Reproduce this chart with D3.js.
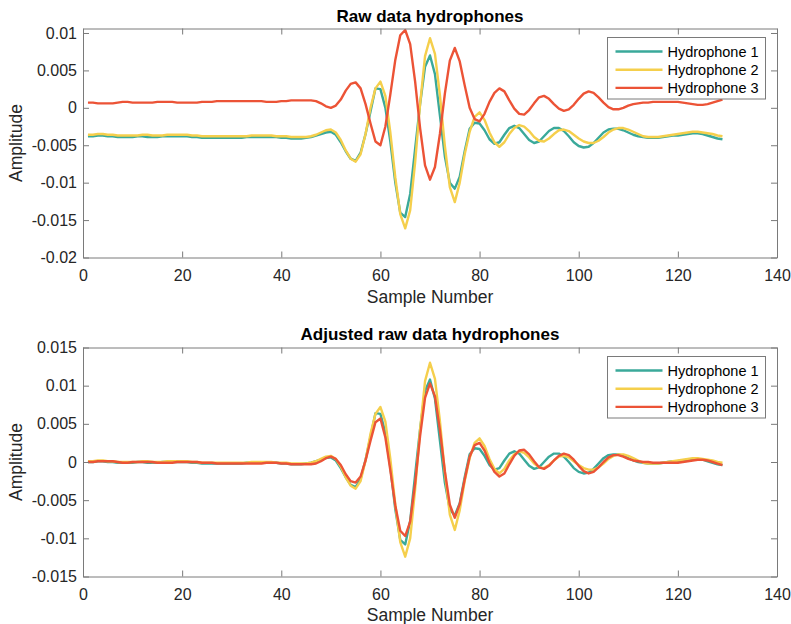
<!DOCTYPE html>
<html>
<head>
<meta charset="utf-8">
<script src="https://cdn.jsdelivr.net/npm/d3@7"></script>
<style>
  html, body { margin: 0; padding: 0; background: #fff; }
  svg { display: block; font-family: "Liberation Sans", Arial, Helvetica, sans-serif; }
</style>
</head>
<body>
<svg id="fig" width="791" height="624"></svg>
<script>
// Hydrophone amplitudes, stored in units of 1e-4
const AMP_UNIT = 1e-4;
const samples = d3.range(1, 130);   // sample numbers 1..129

const rawH1 = [
  -38,-38,-37,-37,-38,-38,-39,-39,-39,-39,
  -38,-38,-39,-39,-39,-38,-38,-38,-38,-38,
  -38,-39,-39,-40,-40,-40,-40,-40,-40,-40,
  -40,-40,-39,-39,-39,-39,-39,-39,-39,-40,
  -40,-41,-41,-41,-40,-39,-37,-35,-33,-32,
  -36,-46,-58,-68,-71,-60,-35,-5,26,25,
  0,-45,-100,-140,-146,-115,-55,5,55,70,
  45,-10,-65,-100,-108,-92,-58,-28,-20,-21,
  -30,-42,-48,-46,-36,-27,-24,-27,-35,-43,
  -47,-45,-38,-31,-27,-27,-31,-38,-46,-51,
  -53,-52,-47,-40,-33,-29,-28,-28,-30,-33,
  -36,-38,-39,-40,-40,-40,-39,-38,-37,-37,
  -36,-35,-34,-34,-35,-37,-39,-41,-42
];
const rawH2 = [
  -36,-36,-35,-35,-36,-36,-37,-37,-37,-37,
  -37,-36,-36,-37,-37,-37,-36,-36,-36,-36,
  -36,-37,-37,-38,-38,-38,-38,-38,-38,-38,
  -38,-38,-38,-37,-37,-37,-37,-37,-38,-38,
  -38,-39,-39,-39,-39,-38,-36,-33,-30,-29,
  -33,-43,-57,-68,-72,-62,-35,0,26,35,
  16,-33,-93,-142,-161,-137,-73,5,69,93,
  72,17,-51,-106,-126,-100,-62,-32,-12,-6,
  -16,-33,-46,-52,-46,-35,-27,-23,-25,-31,
  -39,-44,-45,-41,-35,-30,-29,-31,-36,-41,
  -45,-47,-47,-44,-39,-33,-29,-27,-27,-29,
  -32,-35,-38,-39,-39,-39,-38,-37,-36,-35,
  -34,-33,-32,-32,-33,-34,-35,-37,-38
];
const rawH3 = [
  7,7,6,6,6,6,7,8,8,7,
  7,7,7,7,8,8,8,8,7,7,
  7,7,7,8,8,8,9,9,9,9,
  9,9,9,9,9,9,8,8,8,9,
  9,10,10,10,10,10,9,6,2,0,
  3,11,23,32,34,26,5,-21,-45,-50,
  -25,18,64,97,104,85,35,-27,-77,-96,
  -79,-35,19,63,80,62,30,0,-15,-18,
  -8,8,20,26,22,10,-1,-8,-9,-3,
  6,14,16,12,5,-1,-4,-2,4,12,
  19,22,20,14,7,1,-2,-2,0,3,
  5,6,7,7,8,8,8,8,8,8,
  7,6,5,4,4,5,7,9,11
];

const adjH1 = [
  0,0,1,1,0,0,-1,-1,-1,-1,
  0,0,-1,-1,-1,0,0,0,0,0,
  0,-1,-1,-2,-2,-2,-2,-2,-2,-2,
  -2,-2,-1,-1,-1,-1,-1,-1,-1,-2,
  -2,-3,-3,-3,-2,-1,1,3,5,6,
  2,-8,-20,-30,-33,-22,3,33,64,63,
  38,-7,-62,-102,-108,-77,-17,43,93,108,
  83,28,-27,-62,-70,-54,-20,10,18,17,
  8,-4,-10,-8,2,11,14,11,3,-5,
  -9,-7,0,7,11,11,7,0,-8,-13,
  -15,-14,-9,-2,5,9,10,10,8,5,
  2,0,-1,-2,-2,-2,-1,0,1,1,
  2,3,4,4,3,1,-1,-3,-4
];
const adjH2 = [
  1,1,2,2,1,1,0,0,0,0,
  0,1,1,0,0,0,1,1,1,1,
  1,0,0,-1,-1,-1,-1,-1,-1,-1,
  -1,-1,-1,0,0,0,0,0,-1,-1,
  -1,-2,-2,-2,-2,-1,1,4,7,8,
  4,-6,-20,-31,-35,-25,2,37,63,72,
  53,4,-56,-105,-124,-100,-36,42,106,130,
  109,54,-14,-69,-89,-63,-25,5,25,31,
  21,4,-9,-15,-9,2,10,14,12,6,
  -2,-7,-8,-4,2,7,8,6,1,-4,
  -8,-10,-10,-7,-2,4,8,10,10,8,
  5,2,-1,-2,-2,-2,-1,0,1,2,
  3,4,5,5,4,3,2,0,-1
];
const adjH3 = [
  0,0,1,1,1,1,0,-1,-1,0,
  0,0,0,0,-1,-1,-1,-1,0,0,
  0,0,0,-1,-1,-1,-2,-2,-2,-2,
  -2,-2,-2,-2,-2,-2,-1,-1,-1,-2,
  -2,-3,-3,-3,-3,-3,-2,1,5,7,
  4,-4,-16,-25,-27,-19,2,28,52,57,
  32,-11,-57,-90,-97,-78,-28,34,84,103,
  86,42,-12,-56,-73,-55,-23,7,22,25,
  15,-1,-13,-19,-15,-3,8,15,16,10,
  1,-7,-9,-5,2,8,11,9,3,-5,
  -12,-15,-13,-7,0,6,9,9,7,4,
  2,1,0,0,-1,-1,-1,-1,-1,-1,
  0,1,2,3,3,2,0,-2,-4
];

const seriesNames = ["Hydrophone 1", "Hydrophone 2", "Hydrophone 3"];
const seriesColors = ["#3aa99a", "#f5cf4c", "#ec5336"];

const xTicks = [0, 20, 40, 60, 80, 100, 120, 140];
const rawYTicks = [-0.02, -0.015, -0.01, -0.005, 0, 0.005, 0.01];
const adjYTicks = [-0.015, -0.01, -0.005, 0, 0.005, 0.01, 0.015];

const svg = d3.select("#fig");
const TEXT = "#262626";
const AXIS = "#7a7a7a";
const left = 83, right = 777;

function drawPanel(cfg) {
  const x = d3.scaleLinear().domain([0, 140]).range([left, right]);
  const y = d3.scaleLinear().domain(cfg.yDomain).range([cfg.bottom, cfg.top]);
  const g = svg.append("g");
  const fmt = d => String(d);

  // series
  const line = d3.line().x((d, i) => x(samples[i])).y(d => y(d * AMP_UNIT));
  cfg.series.forEach((vals, k) => {
    g.append("path")
      .attr("d", line(vals))
      .attr("fill", "none")
      .attr("stroke", seriesColors[k])
      .attr("stroke-width", 2.4)
      .attr("stroke-linejoin", "round");
  });

  // axes: ticks point inward on all four sides
  const styleAxis = sel => {
    sel.selectAll(".domain").attr("stroke", AXIS).attr("stroke-width", 1);
    sel.selectAll(".tick line").attr("stroke", AXIS).attr("stroke-width", 1);
    sel.selectAll("text").attr("fill", TEXT).attr("font-size", 16)
      .attr("font-family", '"Liberation Sans", Arial, sans-serif');
  };
  g.append("g").attr("transform", `translate(0,${cfg.bottom})`)
    .call(d3.axisBottom(x).tickValues(xTicks).tickSize(-6).tickSizeOuter(0).tickPadding(12))
    .call(styleAxis);
  g.append("g").attr("transform", `translate(0,${cfg.top})`)
    .call(d3.axisTop(x).tickValues(xTicks).tickSize(-6).tickSizeOuter(0).tickFormat(""))
    .call(styleAxis);
  g.append("g").attr("transform", `translate(${left},0)`)
    .call(d3.axisLeft(y).tickValues(cfg.yTicks).tickSize(-6).tickSizeOuter(0).tickPadding(6).tickFormat(fmt))
    .call(styleAxis);
  g.append("g").attr("transform", `translate(${right},0)`)
    .call(d3.axisRight(y).tickValues(cfg.yTicks).tickSize(-6).tickSizeOuter(0).tickFormat(""))
    .call(styleAxis);

  // title and labels
  const cx = (left + right) / 2;
  g.append("text").attr("x", cx).attr("y", cfg.titleY)
    .attr("text-anchor", "middle").attr("font-weight", "bold")
    .attr("font-size", 17).attr("fill", "#000").text(cfg.title);
  g.append("text").attr("x", cx).attr("y", cfg.xLabelY)
    .attr("text-anchor", "middle").attr("font-size", 17.5)
    .attr("fill", TEXT).text("Sample Number");
  g.append("text")
    .attr("transform", `translate(22,${(cfg.top + cfg.bottom) / 2}) rotate(-90)`)
    .attr("text-anchor", "middle").attr("font-size", 17.5)
    .attr("fill", TEXT).text("Amplitude");

  // legend
  const lg = g.append("g").attr("transform", `translate(607.5,${cfg.legendTop})`);
  lg.append("rect").attr("width", 158).attr("height", 61.5)
    .attr("fill", "#fff").attr("stroke", AXIS).attr("stroke-width", 1);
  seriesNames.forEach((name, k) => {
    const ry = 14 + k * 18.2;
    lg.append("line").attr("x1", 8).attr("x2", 55).attr("y1", ry).attr("y2", ry)
      .attr("stroke", seriesColors[k]).attr("stroke-width", 2.4);
    lg.append("text").attr("x", 60).attr("y", ry).attr("dy", "0.35em")
      .attr("font-size", 14.5).attr("fill", "#000").text(name);
  });
}

drawPanel({
  top: 28.5, bottom: 257.5, yDomain: [-0.02, 0.0106], yTicks: rawYTicks,
  series: [rawH1, rawH2, rawH3], title: "Raw data hydrophones",
  titleY: 22, xLabelY: 303, legendTop: 37.5
});
drawPanel({
  top: 347.5, bottom: 576.5, yDomain: [-0.015, 0.015], yTicks: adjYTicks,
  series: [adjH1, adjH2, adjH3], title: "Adjusted raw data hydrophones",
  titleY: 340, xLabelY: 621, legendTop: 356.5
});
</script>
</body>
</html>
